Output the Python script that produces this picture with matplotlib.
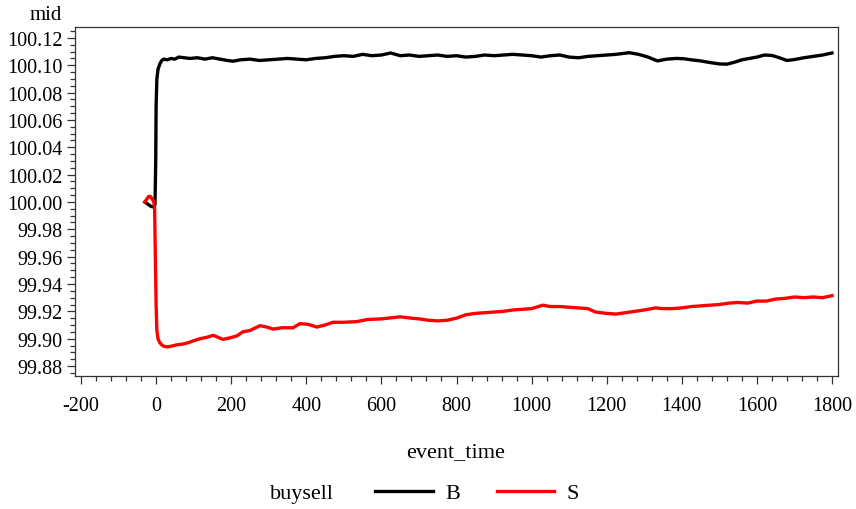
import numpy as np
import matplotlib.pyplot as plt
from matplotlib.lines import Line2D
from matplotlib.ticker import MultipleLocator, FormatStrFormatter

plt.rcParams['font.family'] = ['Liberation Serif', 'DejaVu Serif']
plt.rcParams['axes.unicode_minus'] = False

# mid quote around the event, buy-initiated trades
b_time = [-30, -25, -20, -15, -10, -5, -3, -1, 0, 2, 5, 10, 15, 20, 30, 40, 50, 60, 75,
          90, 110, 130, 150, 170, 190, 205, 225, 250, 275, 300, 325, 350, 375, 400,
          425, 450, 475, 500, 525, 550, 575, 600, 625, 650, 675, 700, 725, 750, 775,
          800, 825, 850, 875, 900, 925, 950, 975, 1000, 1025, 1050, 1075, 1100, 1125,
          1150, 1175, 1200, 1225, 1260, 1285, 1310, 1335, 1360, 1385, 1405, 1425,
          1450, 1475, 1500, 1520, 1540, 1560, 1580, 1600, 1620, 1640, 1660, 1680,
          1700, 1725, 1750, 1775, 1800]
b_mid = [100.000, 99.999, 99.998, 99.997, 99.9965, 99.9965, 99.998, 100.030, 100.070,
         100.090, 100.097, 100.101, 100.1035, 100.1045, 100.1040, 100.1050, 100.1045,
         100.1060, 100.1055, 100.1050, 100.1055, 100.1045, 100.1055, 100.1045,
         100.1035, 100.1030, 100.1040, 100.1045, 100.1035, 100.1040, 100.1045,
         100.1050, 100.1045, 100.1040, 100.1050, 100.1055, 100.1065, 100.1070,
         100.1065, 100.1080, 100.1070, 100.1075, 100.1090, 100.1070, 100.1075,
         100.1065, 100.1070, 100.1075, 100.1065, 100.1070, 100.1060, 100.1065,
         100.1075, 100.1070, 100.1075, 100.1080, 100.1075, 100.1070, 100.1060,
         100.1070, 100.1075, 100.1060, 100.1055, 100.1065, 100.1070, 100.1075,
         100.1080, 100.1092, 100.1080, 100.1060, 100.1032, 100.1045, 100.1050,
         100.1048, 100.1040, 100.1032, 100.1020, 100.1010, 100.1008, 100.1022,
         100.1040, 100.1050, 100.1060, 100.1075, 100.1072, 100.1055, 100.1035,
         100.1042, 100.1055, 100.1065, 100.1075, 100.1090]

# sell-initiated trades
s_time = [-30, -25, -20, -15, -10, -6, -4, -2, 0, 2, 5, 10, 15, 20, 30, 40, 55, 70, 85,
          100, 117, 135, 152, 165, 178, 195, 215, 231, 250, 265, 277, 295, 312, 335,
          365, 383, 405, 428, 450, 471, 500, 535, 562, 600, 650, 680, 700, 725, 750,
          775, 800, 825, 850, 875, 900, 925, 950, 975, 1000, 1030, 1050, 1075, 1100,
          1125, 1150, 1170, 1200, 1225, 1250, 1275, 1300, 1330, 1350, 1375, 1400,
          1425, 1450, 1475, 1500, 1525, 1550, 1575, 1600, 1625, 1650, 1675, 1700,
          1725, 1750, 1775, 1800]
s_mid = [100.000, 100.002, 100.004, 100.004, 100.002, 100.000, 99.995, 99.960, 99.925,
         99.906, 99.900, 99.897, 99.8955, 99.8945, 99.894, 99.8945, 99.8955, 99.896,
         99.897, 99.8985, 99.900, 99.901, 99.9025, 99.901, 99.8995, 99.9005, 99.902,
         99.905, 99.906, 99.908, 99.9095, 99.9085, 99.907, 99.908, 99.908, 99.911,
         99.9105, 99.9085, 99.910, 99.912, 99.912, 99.9125, 99.914, 99.9145, 99.916,
         99.915, 99.9145, 99.9135, 99.913, 99.9135, 99.915, 99.9175, 99.9185, 99.919,
         99.9195, 99.920, 99.921, 99.9215, 99.922, 99.9245, 99.9235, 99.9235, 99.923,
         99.9225, 99.922, 99.9195, 99.9185, 99.918, 99.919, 99.920, 99.921, 99.9225,
         99.922, 99.922, 99.9225, 99.9235, 99.924, 99.9245, 99.925, 99.926, 99.9265,
         99.926, 99.9275, 99.9275, 99.929, 99.9295, 99.9305, 99.930, 99.9305, 99.930,
         99.9315]

x_ticks = np.arange(-200, 1801, 200)

fig = plt.figure(figsize=(8.56, 5.10), dpi=100)
ax = fig.add_axes([75 / 856, 1 - 377 / 510, (838 - 75) / 856, (377 - 28) / 510])

ax.plot(b_time, b_mid, color='black', lw=2.4, solid_joinstyle='round')
ax.plot(s_time, s_mid, color='#ff0000', lw=2.4, solid_joinstyle='round')

ax.set_xlim(-216, 1816)
ax.set_ylim(99.8727, 100.128)
ax.set_xticks(x_ticks)
ax.xaxis.set_minor_locator(MultipleLocator(40))
ax.yaxis.set_major_locator(MultipleLocator(0.02))
ax.yaxis.set_minor_locator(MultipleLocator(0.005))
ax.yaxis.set_major_formatter(FormatStrFormatter('%.2f'))

for s in ax.spines.values():
    s.set_linewidth(0.9)
    s.set_color('#333333')
ax.tick_params(which='major', direction='out', length=5.5, width=0.9, labelsize=14.5,
               color='#333333')
ax.tick_params(which='minor', direction='out', length=3.3, width=0.9, color='#333333')
ax.tick_params(axis='x', which='major', pad=9)
ax.tick_params(axis='y', which='major', pad=3.5)

fig.text(62 / 856, 1 - 15 / 510, 'mid', ha='right', va='center', fontsize=15)
fig.text(456 / 856, 1 - 453 / 510, 'event_time', ha='center', va='center', fontsize=16)

# legend row
fig.text(302 / 856, 1 - 495 / 510, 'buysell', ha='center', va='center', fontsize=16)
handles = [Line2D([], [], color='black', lw=2.4), Line2D([], [], color='#ff0000', lw=2.4)]
fig.legend(handles, ['B', 'S'], loc='center left', bbox_to_anchor=(375 / 856, 1 - 494 / 510),
           ncol=2, frameon=False, fontsize=16, handlelength=2.6, handletextpad=0.55,
           columnspacing=1.65, borderaxespad=0, borderpad=0)

fig.savefig('out.png', dpi=100)
